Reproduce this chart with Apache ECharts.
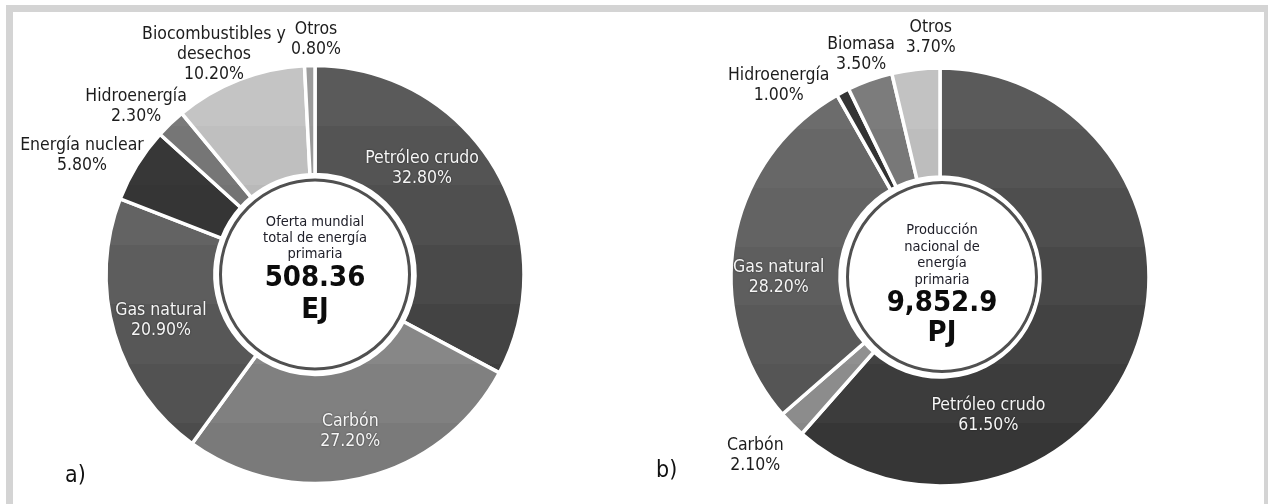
<!DOCTYPE html>
<html><head><meta charset="utf-8">
<script src="https://cdn.jsdelivr.net/npm/echarts@6/dist/echarts.min.js"></script>
<style>html,body{margin:0;padding:0;background:#fff}#c{width:1268px;height:504px}</style>
</head><body><div id="c"></div>
<script>
// ---------- data ----------
const catsA = ['Petróleo crudo', 'Carbón', 'Gas natural', 'Energía nuclear', 'Hidroenergía', 'Biocombustibles y\ndesechos', 'Otros'];
const valsA = [32.8, 27.2, 20.9, 5.8, 2.3, 10.2, 0.8];
const catsB = ['Petróleo crudo', 'Carbón', 'Gas natural', 'Hidroenergía', 'Biomasa', 'Otros'];
const valsB = [61.5, 2.1, 28.2, 1.0, 3.5, 3.7];
const centerLinesA = ['Oferta mundial', 'total de energía', 'primaria'];
const totalA = '508.36';
const unitA = 'EJ';
const centerLinesB = ['Producción', 'nacional de', 'energía', 'primaria'];
const totalB = '9,852.9';
const unitB = 'PJ';
const panelA = 'a)';
const panelB = 'b)';

// ---------- style ----------
const FONT = "'DejaVu Sans Condensed', 'Liberation Sans Narrow', sans-serif";
const colorsA = [['#5a5a5a', '#383838'], ['#a0a0a0', '#7a7a7a'], ['#6e6e6e', '#4c4c4c'], ['#3a3a3a', '#2a2a2a'], ['#7a7a7a', '#646464'], ['#c4c4c4', '#a4a4a4'], ['#9c9c9c', '#8c8c8c']];
const colorsB = [['#5a5a5a', '#363636'], ['#a0a0a0', '#888888'], ['#6c6c6c', '#505050'], ['#343434', '#282828'], ['#7c7c7c', '#646464'], ['#c2c2c2', '#a2a2a2']];
const insideA = [true, true, true, false, false, false, false];
const insideB = [true, false, true, false, false, false];
const offA = [[-28, -25], [0, 3], [-3, 2], [-99, -36], [-70, -54], [-44, -73], [5, -78]];
const offB = [[-99, 83], [-73, 67], [-6, 27], [-88, -52], [-26, -74], [9, -83]];

function hex(c) { return [1, 3, 5].map(i => parseInt(c.substr(i, 2), 16)); }
function bands(c1, c2, y1, y2, n) {
  const a = hex(c1), b = hex(c2), stops = [];
  for (let i = 0; i < n; i++) {
    const t = n === 1 ? 0 : i / (n - 1);
    const col = 'rgb(' + a.map((v, k) => Math.round(v + (b[k] - v) * t)).join(',') + ')';
    stops.push({ offset: i / n, color: col }, { offset: (i + 1) / n, color: col });
  }
  return { type: 'linear', x: 0, y: y1, x2: 0, y2: y2, global: true, colorStops: stops };
}

function ringSeries(center, cats, vals, cols, inside, offs, y1, y2) {
  return {
    type: 'pie', center: center, radius: [100, 209], startAngle: 90, clockwise: true,
    silent: true, avoidLabelOverlap: false,
    itemStyle: { borderColor: '#ffffff', borderWidth: 3.5 },
    label: { show: true, position: 'inside', fontFamily: FONT, fontSize: 17.5, lineHeight: 20,
      formatter: p => p.name + '\n' + p.value.toFixed(2) + '%' },
    labelLine: { show: false },
    labelLayout: p => ({ dx: offs[p.dataIndex][0], dy: offs[p.dataIndex][1] }),
    data: cats.map((n, i) => ({
      name: n, value: vals[i],
      itemStyle: { color: bands(cols[i][0], cols[i][1], y1, y2, 7) },
      label: inside[i]
        ? { color: '#f6f6f6', textShadowColor: 'rgba(0,0,0,0.55)', textShadowBlur: 2 }
        : { color: '#1c1c1c' }
    }))
  };
}

function centerSeries(center, lines, total, unit, sLH, bLH, dy) {
  return {
    type: 'pie', center: center, radius: [0, 94.5], silent: true,
    itemStyle: { color: '#ffffff', borderColor: '#505050', borderWidth: 3 },
    label: {
      show: true, position: 'center',
      formatter: lines.map(l => '{s|' + l + '}').join('\n') + '\n{b|' + total + '}\n{b|' + unit + '}',
      rich: {
        s: { fontFamily: FONT, fontSize: 14.5, lineHeight: sLH, color: '#20202a' },
        b: { fontFamily: FONT, fontSize: 29, fontWeight: 'bold', lineHeight: bLH, color: '#0c0c0c' }
      }
    },
    labelLayout: () => ({ dy: dy }),
    labelLine: { show: false },
    data: [{ value: 1, name: 'c' }]
  };
}

const chart = echarts.init(document.getElementById('c'), null, { renderer: 'canvas' });
chart.setOption({
  animation: false,
  backgroundColor: '#ffffff',
  graphic: [
    { type: 'rect', shape: { x: 9.5, y: 8.5, width: 1258, height: 520 }, style: { fill: 'none', stroke: '#d4d4d4', lineWidth: 7 }, silent: true },
    { type: 'text', left: 65, top: 465, style: { text: panelA, fontFamily: FONT, fontSize: 23, fill: '#111' } },
    { type: 'text', left: 656, top: 460, style: { text: panelB, fontFamily: FONT, fontSize: 23, fill: '#111' } }
  ],
  series: [
    centerSeries([315, 274.5], centerLinesA, totalA, unitA, 16, 32, -4.5),
    ringSeries([315, 274.5], catsA, valsA, colorsA, insideA, offA, 66, 483),
    centerSeries([942, 277], centerLinesB, totalB, unitB, 16.5, 30, 8),
    ringSeries([940, 277], catsB, valsB, colorsB, insideB, offB, 70, 482)
  ]
});
</script></body></html>
